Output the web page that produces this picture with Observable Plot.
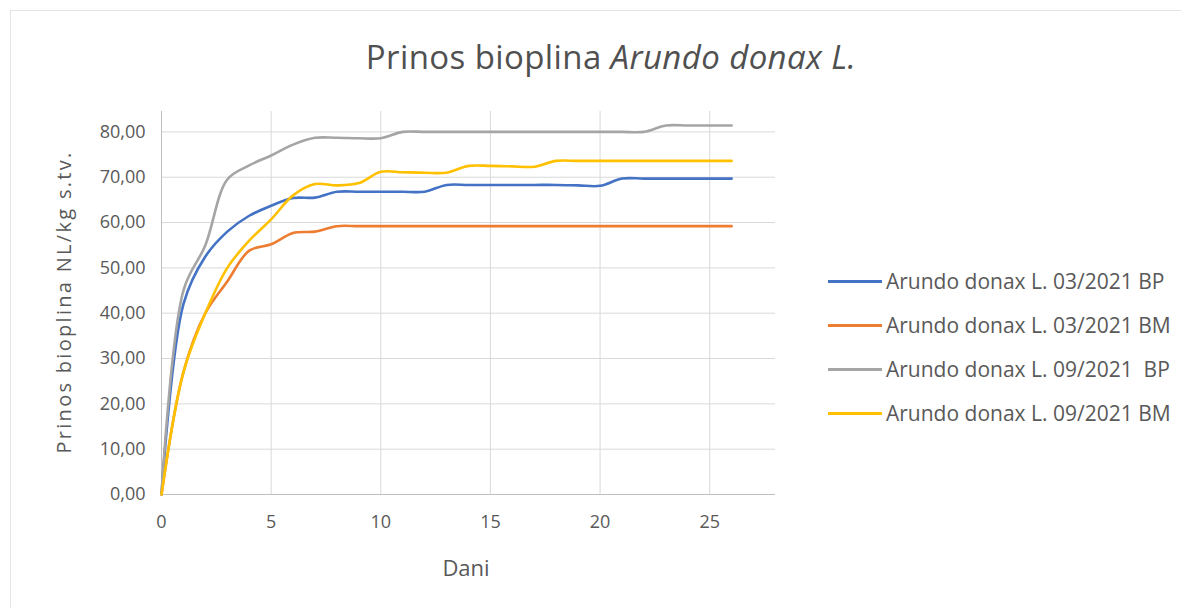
<!DOCTYPE html>
<html>
<head>
<meta charset="utf-8">
<script src="https://cdn.jsdelivr.net/npm/d3@7"></script>
<script src="https://cdn.jsdelivr.net/npm/@observablehq/plot@0.6"></script>
<style>
  html, body { margin: 0; padding: 0; background: #fff; }
  #wrap { position: relative; width: 1192px; height: 608px; font-family: "Open Sans", "Noto Sans", sans-serif; color: #595959; overflow: hidden; }
  #frame { position: absolute; left: 10px; top: 10px; width: 1170px; height: 600px; border-left: 1px solid #e4e4e4; border-top: 1px solid #e4e4e4; }
  #title { position: absolute; left: 0; width: 1222px; top: 34px; text-align: center; font-size: 33px; letter-spacing: 0.4px; color: #505050; }
  #ylab { position: absolute; left: 63px; top: 302px; transform: translate(-50%, -50%) rotate(-90deg); white-space: nowrap; font-size: 20px; letter-spacing: 2.3px; }
  #xlab { position: absolute; left: 466px; top: 567px; transform: translate(-50%, -50%); font-size: 22px; }
  .leg { position: absolute; left: 828px; height: 30px; display: flex; align-items: center; font-size: 21px; white-space: pre; }
  .leg span.sw { display: inline-block; width: 54px; height: 3px; margin-right: 4px; }
  #chart { position: absolute; left: 0; top: 0; }
</style>
</head>
<body>
<div id="wrap">
  <div id="frame"></div>
  <div id="chart"></div>
  <div id="title">Prinos bioplina <i>Arundo donax L.</i></div>
  <div id="ylab">Prinos bioplina NL/kg s.tv.</div>
  <div id="xlab">Dani</div>
  <div id="legend"></div>
</div>
<script>
const days = [0,1,2,3,4,5,6,7,8,9,10,11,12,13,14,15,16,17,18,19,20,21,22,23,24,25,26];
const seriesNames = ["Arundo donax L. 03/2021 BP", "Arundo donax L. 03/2021 BM", "Arundo donax L. 09/2021  BP", "Arundo donax L. 09/2021 BM"];
const seriesColors = ["#4472C4", "#ED7D31", "#A5A5A5", "#FFC000"];
const bp032021 = [0, 42, 52.5, 58, 61.5, 63.7, 65.4, 65.5, 66.8, 66.8, 66.8, 66.8, 66.8, 68.3, 68.3, 68.3, 68.3, 68.3, 68.3, 68.2, 68.1, 69.7, 69.7, 69.7, 69.7, 69.7, 69.7];
const bm032021 = [0, 27, 40, 47, 53.8, 55.2, 57.7, 58, 59.2, 59.2, 59.2, 59.2, 59.2, 59.2, 59.2, 59.2, 59.2, 59.2, 59.2, 59.2, 59.2, 59.2, 59.2, 59.2, 59.2, 59.2, 59.2];
const bp092021 = [0, 45, 55, 69.5, 72.6, 74.8, 77.2, 78.7, 78.7, 78.6, 78.6, 80, 80, 80, 80, 80, 80, 80, 80, 80, 80, 80, 80, 81.4, 81.4, 81.4, 81.4];
const bm092021 = [0, 27, 40, 50, 56, 60.7, 66, 68.5, 68.2, 68.7, 71.2, 71.1, 71, 71, 72.5, 72.5, 72.4, 72.3, 73.6, 73.6, 73.6, 73.6, 73.6, 73.6, 73.6, 73.6, 73.6];
const yTicks = [0, 10, 20, 30, 40, 50, 60, 70, 80];
const xTicks = [0, 5, 10, 15, 20, 25];

const allSeries = [bp032021, bm032021, bp092021, bm092021];
const rows = [];
allSeries.forEach((vals, si) => {
  vals.forEach((v, i) => rows.push({day: days[i], value: v, series: seriesNames[si]}));
});

const fmt = d => d.toFixed(2).replace(".", ",");

const chart = Plot.plot({
  width: 1192,
  height: 608,
  marginLeft: 161,
  marginRight: 417,
  marginTop: 111,
  marginBottom: 114,
  style: { fontFamily: "'Open Sans', 'Noto Sans', sans-serif", fontSize: "18px", color: "#595959", background: "transparent" },
  x: { domain: [0, 28], ticks: xTicks, label: null },
  y: { domain: [0, 84.5], ticks: yTicks, label: null },
  color: { domain: seriesNames, range: seriesColors },
  marks: [
    Plot.gridY(yTicks, { stroke: "#d9d9d9", strokeOpacity: 1, strokeWidth: 1 }),
    Plot.gridX(xTicks, { stroke: "#d9d9d9", strokeOpacity: 1, strokeWidth: 1 }),
    Plot.ruleY([0], { stroke: "#bfbfbf", strokeWidth: 1 }),
    Plot.ruleX([0], { stroke: "#bfbfbf", strokeWidth: 1 }),
    Plot.axisY(yTicks, { tickSize: 0, tickPadding: 16, tickFormat: fmt, fontSize: 18, fill: "#595959" }),
    Plot.axisX(xTicks, { tickSize: 0, tickPadding: 21, fontSize: 18, fill: "#595959" }),
    Plot.line(rows, { x: "day", y: "value", z: "series", stroke: "series", strokeWidth: 2.6, curve: "catmull-rom" })
  ]
});
document.getElementById("chart").appendChild(chart);

const legend = document.getElementById("legend");
const legendCenters = [281, 325, 369, 413];
seriesNames.forEach((name, i) => {
  const d = document.createElement("div");
  d.className = "leg";
  d.style.top = (legendCenters[i] - 15) + "px";
  const sw = document.createElement("span");
  sw.className = "sw";
  sw.style.background = seriesColors[i];
  d.appendChild(sw);
  d.appendChild(document.createTextNode(name));
  legend.appendChild(d);
});
</script>
</body>
</html>
